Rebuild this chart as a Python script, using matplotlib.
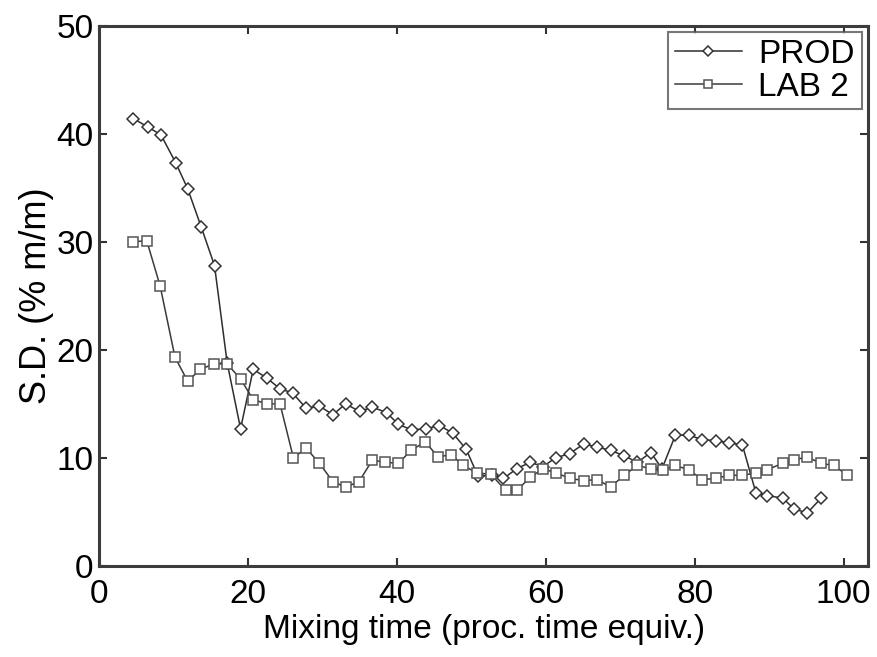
import matplotlib
matplotlib.use("Agg")
from matplotlib import pyplot as plt

# mixing time (proc. time equiv.) and S.D. (% m/m)
prod_x = [4.6, 6.6, 8.3, 10.3, 11.9, 13.7, 15.5, 17.2, 19.0, 20.7,
          22.5, 24.3, 26.0, 27.8, 29.6, 31.4, 33.1, 35.0, 36.7, 38.6,
          40.2, 42.0, 43.9, 45.7, 47.5, 49.3, 50.9, 52.8, 54.3, 56.1,
          57.9, 59.6, 61.3, 63.2, 65.1, 66.9, 68.7, 70.5, 72.3, 74.1,
          75.6, 77.4, 79.2, 81.0, 82.8, 84.6, 86.4, 88.2, 89.7, 91.8,
          93.3, 95.1, 97.0]
prod_sd = [41.4, 40.6, 39.9, 37.3, 34.9, 31.4, 27.8, 18.8, 12.7, 18.2,
           17.4, 16.4, 16.0, 14.6, 14.8, 14.0, 15.0, 14.3, 14.7, 14.2,
           13.1, 12.6, 12.7, 13.0, 12.3, 10.8, 8.3, 8.4, 8.1, 9.0,
           9.6, 9.2, 10.0, 10.4, 11.3, 11.0, 10.7, 10.2, 9.6, 10.5,
           9.0, 12.1, 12.1, 11.7, 11.6, 11.4, 11.2, 6.8, 6.5, 6.3,
           5.3, 4.9, 6.3]

lab_x = [4.6, 6.4, 8.2, 10.2, 11.9, 13.6, 15.4, 17.2, 19.0, 20.7,
         22.5, 24.3, 26.1, 27.8, 29.6, 31.4, 33.1, 34.9, 36.7, 38.4,
         40.2, 41.9, 43.8, 45.5, 47.3, 48.9, 50.8, 52.6, 54.6, 56.1,
         57.9, 59.6, 61.4, 63.3, 65.1, 66.9, 68.7, 70.5, 72.3, 74.1,
         75.8, 77.4, 79.2, 81.0, 82.8, 84.6, 86.4, 88.2, 89.7, 91.8,
         93.3, 95.1, 96.9, 98.7, 100.5]
lab_sd = [30.0, 30.1, 25.9, 19.3, 17.1, 18.2, 18.7, 18.7, 17.3, 15.4,
          15.0, 15.0, 10.0, 10.9, 9.5, 7.8, 7.3, 7.8, 9.8, 9.6,
          9.5, 10.7, 11.5, 10.1, 10.3, 9.3, 8.6, 8.5, 7.0, 7.0,
          8.2, 9.0, 8.6, 8.1, 7.9, 8.0, 7.3, 8.4, 9.3, 9.0,
          8.9, 9.3, 8.9, 8.0, 8.1, 8.4, 8.4, 8.6, 8.9, 9.5,
          9.8, 10.1, 9.5, 9.3, 8.4]

x_ticks = [0, 20, 40, 60, 80, 100]
y_ticks = [0, 10, 20, 30, 40, 50]

plt.rcParams['font.family'] = ['Liberation Sans', 'DejaVu Sans']

fig = plt.figure(figsize=(8.77, 6.57), dpi=100)
ax = fig.add_axes([0.113, 0.1385, 0.877, 0.8225])

ax.plot(prod_x, prod_sd, '-', color='#2e2e2e', linewidth=1.1,
        marker='D', markersize=6.5, markerfacecolor='white',
        markeredgecolor='#333333', markeredgewidth=1.1, label='PROD')
ax.plot(lab_x, lab_sd, '-', color='#3a3a3a', linewidth=1.1,
        marker='s', markersize=7, markerfacecolor='white',
        markeredgecolor='#555555', markeredgewidth=1.1, label='LAB 2')

ax.set_xlim(0, 103.3)
ax.set_ylim(0, 50)
ax.set_xticks(x_ticks)
ax.set_yticks(y_ticks)
ax.tick_params(direction='in', length=6, width=1.5, color='#333333',
               labelsize=24, top=True, right=True)
ax.tick_params(axis='x', pad=9)
ax.tick_params(axis='y', pad=4)
for s in ax.spines.values():
    s.set_linewidth(2.2)
    s.set_color('#3c3c3c')

ax.set_xlabel('Mixing time (proc. time equiv.)', fontsize=24, labelpad=3)
ax.set_ylabel('S.D. (% m/m)', fontsize=26, labelpad=2)

leg = ax.legend(loc='upper right', fontsize=24, frameon=True, fancybox=False,
                edgecolor='#555555', handlelength=2.0, handletextpad=0.5,
                borderpad=0.2, labelspacing=0.05, borderaxespad=0.2,
                markerscale=0.85)
leg.get_frame().set_linewidth(1.5)

fig.savefig('out.png', dpi=100)
